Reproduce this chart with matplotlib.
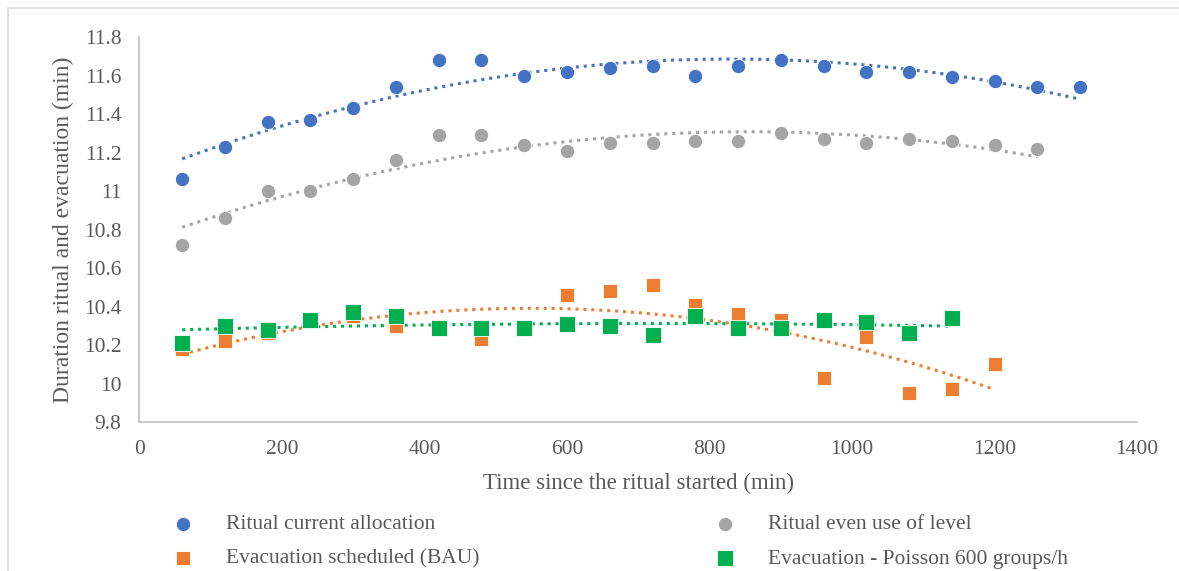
import numpy as np
import matplotlib
matplotlib.use("Agg")
import matplotlib.pyplot as plt
from matplotlib.patches import Rectangle
from matplotlib.ticker import FuncFormatter

# data (time in min)
time_ritual = [60, 120, 180, 240, 300, 360, 420, 480, 540, 600, 660,
               720, 780, 840, 900, 960, 1020, 1080, 1140, 1200, 1260, 1320]
ritual_current = [11.06, 11.23, 11.36, 11.37, 11.43, 11.54, 11.68, 11.68, 11.60, 11.62, 11.64,
                  11.65, 11.60, 11.65, 11.68, 11.65, 11.62, 11.62, 11.59, 11.57, 11.54, 11.54]
ritual_even = [10.72, 10.86, 11.00, 11.00, 11.06, 11.16, 11.29, 11.29, 11.24, 11.21, 11.25,
               11.25, 11.26, 11.26, 11.30, 11.27, 11.25, 11.27, 11.26, 11.24, 11.22]
evac_bau = [10.18, 10.22, 10.26, 10.33, 10.35, 10.30, 10.30, 10.23, 10.29, 10.46,
            10.48, 10.51, 10.41, 10.36, 10.33, 10.03, 10.24, 9.95, 9.97, 10.10]
evac_poisson = [10.21, 10.30, 10.28, 10.33, 10.37, 10.35, 10.29, 10.29, 10.29, 10.31,
                10.30, 10.25, 10.35, 10.29, 10.29, 10.33, 10.32, 10.26, 10.34]

series = [
    ("Ritual current allocation", ritual_current, "#4472C4", "o", 105),
    ("Ritual even use of level", ritual_even, "#A5A5A5", "o", 105),
    ("Evacuation scheduled (BAU)", evac_bau, "#ED7D31", "s", 100),
    ("Evacuation - Poisson 600 groups/h", evac_poisson, "#00B050", "s", 125),
]

plt.rcParams['font.family'] = ['Liberation Serif', 'DejaVu Serif']

fig = plt.figure(figsize=(11.79, 5.71), dpi=100)
ax = fig.add_axes([0.1183, 0.2609, 0.8461, 0.6743])

# light outer frame like the Excel chart area
fig.patches.append(Rectangle((8 / 1179, -0.1), 1.2, 1.1 - 8 / 571, transform=fig.transFigure,
                             fill=False, edgecolor="#D9D9D9", linewidth=1.2))

handles = {}
for name, vals, col, mk, sz in series:
    x = np.array(time_ritual[:len(vals)], dtype=float)
    y = np.array(vals)
    h = ax.scatter(x, y, s=sz, color=col, marker=mk, edgecolors="white",
                   linewidths=0.6, zorder=3, label=name)
    handles[name] = h
    # polynomial (order 2) trendline, as Excel draws it
    coef = np.polyfit(x, y, 2)
    xs = np.linspace(x.min(), x.max(), 300)
    ax.plot(xs, np.polyval(coef, xs), color=col, linewidth=2.2,
            linestyle=(0, (1, 1.6)), zorder=2)

ax.set_xlim(0, 1400)
ax.set_ylim(9.8, 11.8)
ax.set_xticks(np.arange(0, 1401, 200))
ax.set_yticks(np.arange(9.8, 11.81, 0.2))
ax.yaxis.set_major_formatter(FuncFormatter(lambda v, p: f"{v:g}"))
ax.tick_params(length=0, labelsize=15.5, labelcolor="#595959")
ax.tick_params(axis="y", pad=13)
ax.tick_params(axis="x", pad=13)

for s in ["top", "right"]:
    ax.spines[s].set_visible(False)
for s in ["left", "bottom"]:
    ax.spines[s].set_color("#BFBFBF")
    ax.spines[s].set_linewidth(1.2)

ax.set_xlabel("Time since the ritual started (min)", fontsize=16.5, color="#595959", labelpad=10)
ax.set_ylabel("Duration ritual and evacuation (min)", fontsize=17, color="#595959", labelpad=7)

order = ["Ritual current allocation", "Evacuation scheduled (BAU)",
         "Ritual even use of level", "Evacuation - Poisson 600 groups/h"]
leg = fig.legend([handles[n] for n in order], order, ncol=2, loc="upper left",
                 bbox_to_anchor=(0.137, 0.0995), frameon=False, fontsize=15.5,
                 borderpad=0, borderaxespad=0,
                 columnspacing=10.4, handletextpad=1.0, labelspacing=0.68)
for t in leg.get_texts():
    t.set_color("#595959")

fig.savefig("out.png", dpi=100)
